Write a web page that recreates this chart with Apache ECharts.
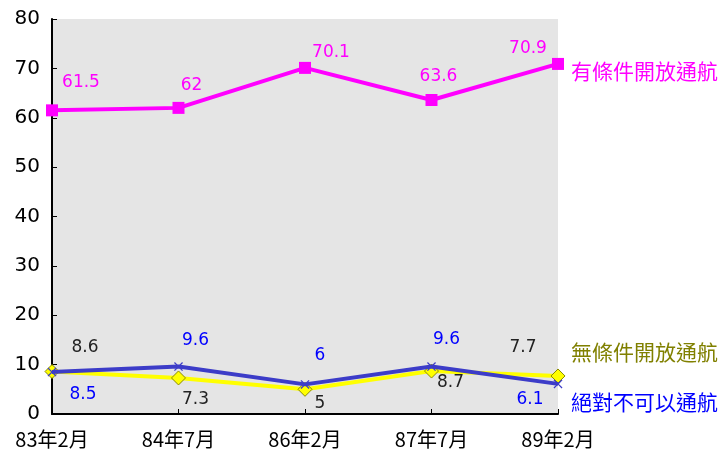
<!DOCTYPE html>
<html><head><meta charset="utf-8">
<script src="https://cdn.jsdelivr.net/npm/echarts@6/dist/echarts.min.js"></script>
<style>html,body{margin:0;padding:0;background:#fff}#c{width:725px;height:459px}</style>
</head><body><div id="c"></div>
<script>
var categories = ['83年2月', '84年7月', '86年2月', '87年7月', '89年2月'];
var seriesNames = ['有條件開放通航', '無條件開放通航', '絕對不可以通航'];
var conditional = [61.5, 62, 70.1, 63.6, 70.9];
var unconditional = [8.6, 7.3, 5, 8.7, 7.7];
var never = [8.5, 9.6, 6, 9.6, 6.1];
var yTicks = [0, 10, 20, 30, 40, 50, 60, 70, 80];

var FONT = '"DejaVu Sans", "Noto Sans CJK TC", sans-serif';
var CJK = '"Noto Sans CJK TC", sans-serif';

function withOffsets(vals, offs) {
  return vals.map(function (v, i) { return { value: v, label: { offset: offs[i] } }; });
}
var offMag = [[29,-28],[13,-22],[26,-15],[7,-23],[-30,-15]];
var offYel = [[33,-24],[17,22],[15,14],[19,12],[-35,-28]];
var offBlu = [[31,23],[17,-26],[15,-29],[15,-27],[-28,16]];

var chart = echarts.init(document.getElementById('c'), null, {renderer: 'canvas'});
chart.setOption({
  backgroundColor: '#ffffff',
  animation: false,
  grid: { left: 52, right: 167, top: 19, bottom: 45, show: true, backgroundColor: '#e5e5e5', borderWidth: 0 },
  xAxis: {
    type: 'category', data: categories, boundaryGap: false,
    axisLine: { lineStyle: { color: '#000', width: 2 } },
    axisTick: { inside: true, length: 5, lineStyle: { color: '#000', width: 1 } },
    axisLabel: { color: '#000', fontSize: 20, fontFamily: CJK, margin: 15 },
    splitLine: { show: false }
  },
  yAxis: {
    type: 'value', min: yTicks[0], max: yTicks[yTicks.length - 1], interval: yTicks[1] - yTicks[0],
    axisLine: { show: true, lineStyle: { color: '#000', width: 2 } },
    axisTick: { show: true, inside: true, length: 5, lineStyle: { color: '#000', width: 1 } },
    axisLabel: { color: '#000', fontSize: 20, fontFamily: FONT, margin: 12 },
    splitLine: { show: false }
  },
  series: [
    {
      name: seriesNames[0], type: 'line', data: withOffsets(conditional, offMag),
      symbol: 'rect', symbolSize: 12, z: 3,
      lineStyle: { color: '#ff00ff', width: 4 }, itemStyle: { color: '#ff00ff' },
      label: { show: true, position: 'inside', color: '#ff00ff', fontSize: 17, fontFamily: FONT },
      endLabel: { show: true, formatter: '{a}', color: '#ff00ff', fontSize: 21, fontFamily: CJK, offset: [7, 7], distance: 6 }
    },
    {
      name: seriesNames[1], type: 'line', data: withOffsets(unconditional, offYel),
      symbol: 'diamond', symbolSize: 14, z: 2,
      lineStyle: { color: '#ffff00', width: 4 }, itemStyle: { color: '#ffff00', borderColor: '#8a8a00', borderWidth: 1 },
      label: { show: true, position: 'inside', color: '#222', fontSize: 17, fontFamily: FONT },
      endLabel: { show: true, formatter: '{a}', color: '#808000', fontSize: 21, fontFamily: CJK, offset: [7, -24], distance: 6 }
    },
    {
      name: seriesNames[2], type: 'line', data: withOffsets(never, offBlu),
      symbol: 'path://M0,1L1,0L5,4L9,0L10,1L6,5L10,9L9,10L5,6L1,10L0,9L4,5Z', symbolSize: 9, z: 4,
      lineStyle: { color: '#3c3cc8', width: 4 }, itemStyle: { color: '#3c3cc8' },
      label: { show: true, position: 'inside', color: '#0000ff', fontSize: 17, fontFamily: FONT },
      endLabel: { show: true, formatter: '{a}', color: '#0000ff', fontSize: 21, fontFamily: CJK, offset: [7, 18], distance: 6 }
    }
  ]
});
</script></body></html>
